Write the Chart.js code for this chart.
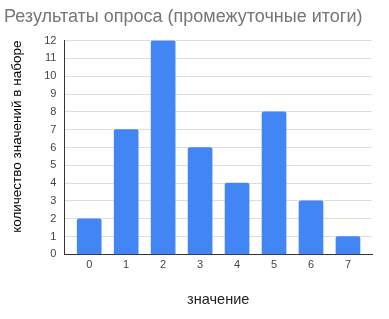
<!DOCTYPE html>
<html>
<head>
<meta charset="utf-8">
<script src="https://cdn.jsdelivr.net/npm/chart.js@4"></script>
<style>
  html, body { margin: 0; padding: 0; background: #fff; }
  #wrap { width: 389px; height: 319px; }
</style>
</head>
<body>
<div id="wrap"><canvas id="surveyChart"></canvas></div>
<script>
const categories = [0, 1, 2, 3, 4, 5, 6, 7];
const counts = [2, 7, 12, 6, 4, 8, 3, 1];
const yTicks = [0, 1, 2, 3, 4, 5, 6, 7, 8, 9, 10, 11, 12];

const font = "Arial, 'Liberation Sans', sans-serif";

const surveyConfig = {
    type: 'bar',
    data: {
        datasets: [{
            label: 'значение',
            data: categories.map((c, i) => ({ x: c, y: counts[i] })),
            backgroundColor: '#4285F4',
            borderRadius: 2,
            borderSkipped: 'bottom',
            barThickness: 24
        }]
    },
    options: {
        responsive: true,
        maintainAspectRatio: false,
        animation: false,
        layout: { padding: { left: 4, right: 17, top: 6, bottom: 10 } },
        plugins: {
            legend: { display: false },
            tooltip: { enabled: false },
            title: {
                display: true,
                text: 'Результаты опроса (промежуточные итоги)',
                align: 'start',
                color: '#757575',
                font: { family: font, size: 18, weight: 'normal' },
                padding: { top: 0, bottom: 13 }
            }
        },
        scales: {
            x: {
                type: 'linear',
                offset: false,
                min: -0.67,
                max: 7.65,
                afterBuildTicks: axis => { axis.ticks = categories.map(v => ({ value: v })); },
                grid: { display: false, drawTicks: false },
                border: { display: true, color: '#333333', width: 1 },
                ticks: { color: '#444444', font: { family: font, size: 11 }, padding: 4 },
                title: {
                    display: true,
                    text: 'значение',
                    color: '#222222',
                    font: { family: font, size: 14.5 },
                    padding: { top: 16, bottom: 0 }
                }
            },
            y: {
                min: 0,
                max: 12,
                afterBuildTicks: axis => { axis.ticks = yTicks.map(v => ({ value: v })); },
                grid: { color: '#dddddd', drawTicks: false },
                border: { display: true, color: '#333333', width: 1 },
                ticks: { color: '#444444', font: { family: font, size: 11 }, padding: 8 },
                title: {
                    display: true,
                    text: 'количество значений в наборе',
                    align: 'end',
                    color: '#000000',
                    font: { family: font, size: 13.5 },
                    padding: { top: 5, bottom: 11 }
                }
            }
        }
    }
};

new Chart(document.getElementById('surveyChart'), surveyConfig);
</script>
</body>
</html>
